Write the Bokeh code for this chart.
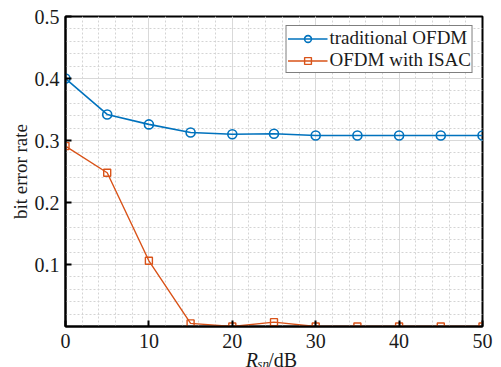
from bokeh.plotting import figure
from bokeh.layouts import column
from bokeh.models import FixedTicker, Legend, LegendItem, Title
from bokeh.core.properties import value
from bokeh.embed import file_html
from bokeh.resources import INLINE

snr_db = [0, 5, 10, 15, 20, 25, 30, 35, 40, 45, 50]
ber_traditional = [0.400, 0.342, 0.326, 0.313, 0.310, 0.311, 0.308, 0.308, 0.308, 0.308, 0.308]
ber_isac = [0.291, 0.248, 0.106, 0.005, 0.0, 0.007, 0.0, 0.0, 0.0, 0.0, 0.0]
x_ticks = [0, 10, 20, 30, 40, 50]
y_ticks = [0.1, 0.2, 0.3, 0.4, 0.5]
series_names = ["traditional OFDM", "OFDM with ISAC"]
x_label_parts = ["R", "sn", "/dB"]
x_label_pos = [21.6, 23.0, 24.3]

BLUE = "#0072BD"
RED = "#D95319"
FONT = "Liberation Serif"
TXT = "#1a1a1a"

p = figure(frame_width=417, frame_height=310, x_range=(0, 50), y_range=(0, 0.5),
           output_backend="svg", toolbar_location=None,
           min_border_left=57, min_border_right=11, min_border_top=16, min_border_bottom=0)
p.background_fill_color = "white"
p.border_fill_color = "white"
p.outline_line_color = "black"
p.outline_line_width = 2

p.xaxis.ticker = FixedTicker(ticks=x_ticks, minor_ticks=[v for v in range(0, 51, 2)])
p.yaxis.ticker = FixedTicker(ticks=y_ticks, minor_ticks=[round(i * 0.02, 2) for i in range(26)])

for ax in (p.xaxis[0], p.yaxis[0]):
    ax.axis_line_color = "black"
    ax.axis_line_width = 2
    ax.major_tick_in = 6
    ax.major_tick_out = 0
    ax.major_tick_line_width = 2
    ax.major_tick_line_color = "black"
    ax.minor_tick_line_color = None
    ax.major_label_text_font = FONT
    ax.major_label_text_font_size = "20px"
    ax.major_label_text_color = TXT

yax = p.yaxis[0]
yax.major_label_standoff = 2
yax.major_label_overrides = {0.1: "0.1", 0.2: "0.2", 0.3: "0.3", 0.4: "0.4", 0.5: "0.5"}
p.xaxis[0].major_label_standoff = 3

p.add_layout(Title(text="bit error rate", align="center", text_font=FONT,
                   text_font_size="19px", text_font_style="normal", text_color=TXT,
                   standoff=1), "left")
# blank outer spacer so that the frame starts where the reference's does
p.add_layout(Title(text=" ", text_font=FONT, text_font_size="5px", standoff=0), "left")

for g in (p.xgrid[0], p.ygrid[0]):
    g.grid_line_color = "#d9d9d9"
    g.grid_line_width = 1
    g.minor_grid_line_color = "#d4d4d4"
    g.minor_grid_line_dash = "2 2"
    g.minor_grid_line_width = 1

l1 = p.line(snr_db, ber_traditional, line_color=BLUE, line_width=1.6)
m1 = p.scatter(snr_db, ber_traditional, marker="circle", size=9, fill_color=None,
               line_color=BLUE, line_width=1.6)
l2 = p.line(snr_db, ber_isac, line_color=RED, line_width=1.4)
m2 = p.scatter(snr_db, ber_isac, marker="square", size=7, fill_color=None,
               line_color=RED, line_width=1.4)

legend = Legend(items=[LegendItem(label=series_names[0], renderers=[l1, m1]),
                       LegendItem(label=series_names[1], renderers=[l2, m2])],
                location="top_right")
legend.label_text_font = FONT
legend.label_text_font_size = "19px"
legend.label_text_line_height = 0.9
legend.label_text_color = TXT
legend.label_height = 17
legend.glyph_height = 17
legend.glyph_width = 40
legend.label_standoff = 2
legend.spacing = 0
legend.padding = 1
legend.margin = 9
legend.border_line_color = "black"
legend.border_line_width = 1
legend.background_fill_color = "white"
legend.background_fill_alpha = 1
p.add_layout(legend)

# strip below the plot carrying the x-axis label (italic R, subscript, /dB)
p2 = figure(frame_width=417, frame_height=24, x_range=p.x_range, y_range=(0, 24),
            output_backend="svg", toolbar_location=None,
            min_border_left=57, min_border_right=11, min_border_top=0, min_border_bottom=0)
p2.axis.visible = False
p2.grid.visible = False
p2.outline_line_color = None
p2.background_fill_color = "white"
p2.border_fill_color = "white"
p2.text(x=[x_label_pos[0]], y=[15], text=[x_label_parts[0]], text_font=value(FONT),
        text_font_size="20px", text_font_style="italic", text_color=TXT,
        text_baseline="alphabetic")
p2.text(x=[x_label_pos[1]], y=[11], text=[x_label_parts[1]], text_font=value(FONT),
        text_font_size="13px", text_font_style="italic", text_color=TXT,
        text_baseline="alphabetic")
p2.text(x=[x_label_pos[2]], y=[15], text=[x_label_parts[2]], text_font=value(FONT),
        text_font_size="20px", text_color=TXT, text_baseline="alphabetic")

layout = column(p, p2, spacing=0)
open("out.html", "w").write(file_html(layout, INLINE))
